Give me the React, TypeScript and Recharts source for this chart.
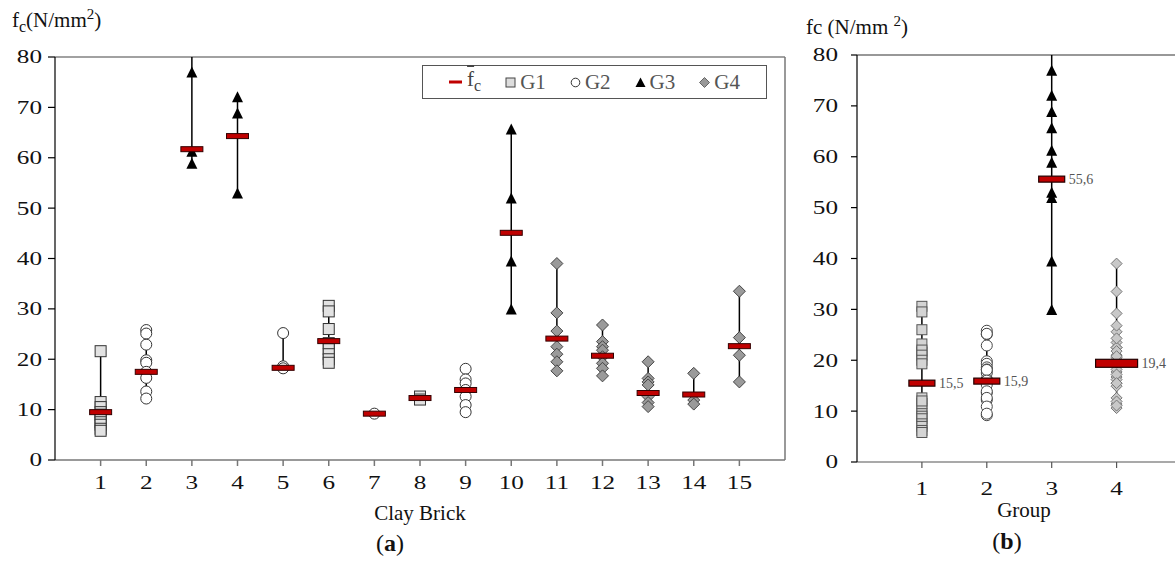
import React from "react";
import { ScatterChart, Scatter, XAxis, YAxis, ErrorBar, ReferenceLine } from "recharts";

// panel (a): clay bricks
const bricks = [1, 2, 3, 4, 5, 6, 7, 8, 9, 10, 11, 12, 13, 14, 15];
const brickGroups = ["G1", "G2", "G3", "G3", "G2", "G1", "G2", "G1", "G2", "G3", "G4", "G4", "G4", "G4", "G4"];
const brickValues = [
  [21.6, 11.5, 10.5, 9.5, 9.0, 8.5, 7.5, 7.0, 6.2, 5.8],
  [25.8, 25.1, 22.9, 19.8, 19.3, 17.5, 16.3, 13.6, 12.2],
  [77.0, 61.3, 58.9],
  [72.1, 68.9, 53.0],
  [25.2, 18.6, 18.2],
  [30.6, 29.5, 26.0, 23.2, 22.0, 21.0, 20.0, 19.3],
  [9.2],
  [12.6, 12.0],
  [18.1, 16.0, 15.2, 13.9, 12.6, 10.9, 9.5],
  [65.7, 52.0, 39.5, 30.0],
  [39.0, 29.2, 25.6, 22.5, 21.0, 19.5, 17.7],
  [26.8, 23.5, 22.5, 21.8, 20.5, 19.2, 18.2, 16.7],
  [19.5, 16.2, 15.5, 14.9, 12.6, 11.4, 10.6],
  [17.2, 11.9, 11.1],
  [33.5, 24.3, 20.8, 15.5],
];
const brickMeans = [9.5, 17.5, 61.7, 64.3, 18.3, 23.6, 9.2, 12.3, 13.9, 45.1, 24.1, 20.7, 13.3, 13.0, 22.6];
const brickMin = [5.8, 12.2, 58.9, 53.0, 18.2, 19.3, 9.2, 12.0, 9.5, 30.0, 17.7, 16.7, 10.6, 11.1, 15.5];
const brickMax = [21.6, 25.8, 80, 72.1, 25.2, 30.6, 9.2, 12.6, 18.1, 65.7, 39.0, 26.8, 19.5, 17.2, 33.5];

// panel (b): groups
const groups = [1, 2, 3, 4];
const groupNames = ["G1", "G2", "G3", "G4"];
const groupMeans = [15.5, 15.9, 55.6, 19.4];
const groupMin = [5.8, 9.2, 30.0, 10.6];
const groupMax = [30.6, 25.8, 80, 39.0];

const yTicks = [0, 10, 20, 30, 40, 50, 60, 70, 80];
const FONT = "'Liberation Serif', 'DejaVu Serif', serif";
const RED = "#C00000";

const pointsA = (g: string) =>
  bricks.flatMap((b, i) => (brickGroups[i] === g ? brickValues[i].map((v) => ({ x: b, y: v })) : []));

const pointsB = (g: string, gi: number) =>
  brickValues.flatMap((vals, i) => (brickGroups[i] === g ? vals.map((v) => ({ x: groups[gi], y: v })) : []));

const meansA = bricks.map((b, i) => ({
  x: b,
  y: brickMeans[i],
  err: [brickMeans[i] - brickMin[i], brickMax[i] - brickMeans[i]],
}));

const meansB = groups.map((g, i) => ({
  x: g,
  y: groupMeans[i],
  label: groupMeans[i].toFixed(1).replace(".", ","),
  err: [groupMeans[i] - groupMin[i], groupMax[i] - groupMeans[i]],
}));

const square = (s: number, fill: string, stroke: string) => (p: any) =>
  <rect x={p.cx - s / 2} y={p.cy - s / 2} width={s} height={s} fill={fill} stroke={stroke} strokeWidth={1} />;
const circle = (s: number, fill: string, stroke: string) => (p: any) =>
  <circle cx={p.cx} cy={p.cy} r={s / 2} fill={fill} stroke={stroke} strokeWidth={1} />;
const triangle = (s: number) => (p: any) =>
  <path d={`M${p.cx},${p.cy - s / 2} L${p.cx + s / 2},${p.cy + s / 2} L${p.cx - s / 2},${p.cy + s / 2} Z`} fill="#000" />;
const diamond = (s: number, fill: string, stroke: string) => (p: any) =>
  <path d={`M${p.cx},${p.cy - s / 2} L${p.cx + s / 2},${p.cy} L${p.cx},${p.cy + s / 2} L${p.cx - s / 2},${p.cy} Z`} fill={fill} stroke={stroke} strokeWidth={1} />;
const nothing = () => <g />;

const meanBarA = (p: any) =>
  <rect x={p.cx - 11} y={p.cy - 2.5} width={22} height={5} fill={RED} stroke="#300" strokeWidth={1} />;

const meanBarB = (p: any) => {
  const w = p.payload.x === 4 ? 42 : 26;
  const h = p.payload.x === 4 ? 8 : 6;
  return (
    <g>
      <rect x={p.cx - w / 2} y={p.cy - h / 2} width={w} height={h} fill={RED} stroke="#200" strokeWidth={1.2} />
      <text x={p.cx + w / 2 + 4} y={p.cy + 5} fontSize={14} fill="#555" fontFamily={FONT}>{p.payload.label}</text>
    </g>
  );
};

// tick labels in the reference are horizontally stretched
const XTick = (p: any) => (
  <g transform={`translate(${p.x},${p.y})`}>
    <text x={0} y={0} dy="0.71em" textAnchor="middle" transform="scale(1.4,1)" fontSize={18} fill="#111" fontFamily={FONT}>
      {p.payload.value}
    </text>
  </g>
);
const YTick = (p: any) => (
  <g transform={`translate(${p.x},${p.y})`}>
    <text x={0} y={0} dy="0.355em" textAnchor="end" transform="scale(1.4,1)" fontSize={18} fill="#111" fontFamily={FONT}>
      {p.payload.value}
    </text>
  </g>
);

function LegendBox() {
  const item = { display: "flex", alignItems: "center", gap: 4 } as const;
  return (
    <div style={{ position: "absolute", left: 422, top: 65, width: 343, height: 32, border: "1.5px solid #555", display: "flex", alignItems: "center", justifyContent: "center", gap: 24, fontFamily: FONT, fontSize: 21, color: "#555", background: "#fff", lineHeight: 1 }}>
      <span style={item}>
        <svg width={14} height={6}><rect x={0} y={1.5} width={13} height={3} fill={RED} /></svg>
        <span style={{ color: "#444" }}><span style={{ textDecoration: "overline" }}>f</span><sub style={{ fontSize: 16 }}>c</sub></span>
      </span>
      <span style={item}><svg width={11} height={11}><rect x={1} y={1} width={9} height={9} fill="#ddd" stroke="#444" /></svg>G1</span>
      <span style={item}><svg width={11} height={11}><circle cx={5.5} cy={5.5} r={4.3} fill="#fff" stroke="#333" /></svg>G2</span>
      <span style={item}><svg width={11} height={11}><path d="M5.5,0.5 L10.5,10 L0.5,10 Z" fill="#000" /></svg>G3</span>
      <span style={item}><svg width={11} height={11}><path d="M5.5,0.5 L10.5,5.5 L5.5,10.5 L0.5,5.5 Z" fill="#999" stroke="#666" /></svg>G4</span>
    </div>
  );
}

export default function App() {
  return (
    <div style={{ position: "absolute", left: 0, top: 0, width: 1175, height: 561, background: "#fff", fontFamily: FONT }}>
      <div style={{ position: "absolute", left: 12, top: 6, fontSize: 21, color: "#111" }}>
        f<sub style={{ fontSize: 16 }}>c</sub>(N/mm<sup style={{ fontSize: 15 }}>2</sup>)
      </div>
      <div style={{ position: "absolute", left: 806, top: 13, fontSize: 21, color: "#111" }}>
        fc (N/mm <sup style={{ fontSize: 15 }}>2</sup>)
      </div>

      <ScatterChart width={790} height={561} margin={{ top: 57, right: 5, left: 0, bottom: 0 }} style={{ position: "absolute", left: 0, top: 0 }}>
        <XAxis type="number" dataKey="x" domain={[0, 16]} ticks={bricks} interval={0} height={101}
          tickSize={6} tickMargin={10} tick={<XTick />} stroke="#777" strokeWidth={1.5}
          label={{ value: "Clay Brick", position: "insideBottom", offset: 41, fontSize: 21, fill: "#111", fontFamily: FONT }} />
        <YAxis type="number" dataKey="y" domain={[0, 80]} ticks={yTicks} interval={0} width={55}
          tickSize={7} tickMargin={6} tick={<YTick />} stroke="#000" strokeWidth={1.2} allowDataOverflow />
        <ReferenceLine y={80} stroke="#444" strokeWidth={1.2} />
        <ReferenceLine x={16} stroke="#777" strokeWidth={1.5} />
        <Scatter data={meansA} shape={nothing} isAnimationActive={false}>
          <ErrorBar dataKey="err" direction="y" width={0} stroke="#000" strokeWidth={1.5} isAnimationActive={false} />
        </Scatter>
        <Scatter data={pointsA("G1")} shape={square(11, "#e2e2e2", "#333")} isAnimationActive={false} />
        <Scatter data={pointsA("G2")} shape={circle(11, "#fff", "#333")} isAnimationActive={false} />
        <Scatter data={pointsA("G3")} shape={triangle(11)} isAnimationActive={false} />
        <Scatter data={pointsA("G4")} shape={diamond(12, "#9a9a9a", "#444")} isAnimationActive={false} />
        <Scatter data={meansA} shape={meanBarA} isAnimationActive={false} />
      </ScatterChart>

      <LegendBox />

      <ScatterChart width={385} height={561} margin={{ top: 55, right: 0, left: 0, bottom: 0 }} style={{ position: "absolute", left: 790, top: 0 }}>
        <XAxis type="number" dataKey="x" domain={[0, 4.9]} ticks={groups} interval={0} height={99}
          tickSize={6} tickMargin={14} tick={<XTick />} stroke="#555" strokeWidth={1.2}
          label={{ value: "Group", position: "insideBottom", offset: 44, dx: 8, fontSize: 21, fill: "#111", fontFamily: FONT }} />
        <YAxis type="number" dataKey="y" domain={[0, 80]} ticks={yTicks} interval={0} width={67}
          tickSize={6} tickMargin={13} tick={<YTick />} stroke="#000" strokeWidth={1.2} allowDataOverflow />
        <ReferenceLine y={80} stroke="#333" strokeWidth={1.2} />
        <Scatter data={meansB} shape={nothing} isAnimationActive={false}>
          <ErrorBar dataKey="err" direction="y" width={0} stroke="#000" strokeWidth={1.5} isAnimationActive={false} />
        </Scatter>
        <Scatter data={pointsB(groupNames[0], 0)} shape={square(10, "#d4d4d4", "#555")} isAnimationActive={false} />
        <Scatter data={pointsB(groupNames[1], 1)} shape={circle(11, "#fff", "#444")} isAnimationActive={false} />
        <Scatter data={pointsB(groupNames[2], 2)} shape={triangle(11)} isAnimationActive={false} />
        <Scatter data={pointsB(groupNames[3], 3)} shape={diamond(11, "#c8c8c8", "#777")} isAnimationActive={false} />
        <Scatter data={meansB} shape={meanBarB} isAnimationActive={false} />
      </ScatterChart>

      <div style={{ position: "absolute", left: 0, width: 780, top: 530, textAlign: "center", fontSize: 24, color: "#111" }}>
        (<b>a</b>)
      </div>
      <div style={{ position: "absolute", left: 957, width: 100, top: 528, textAlign: "center", fontSize: 24, color: "#111" }}>
        (<b>b</b>)
      </div>
    </div>
  );
}
